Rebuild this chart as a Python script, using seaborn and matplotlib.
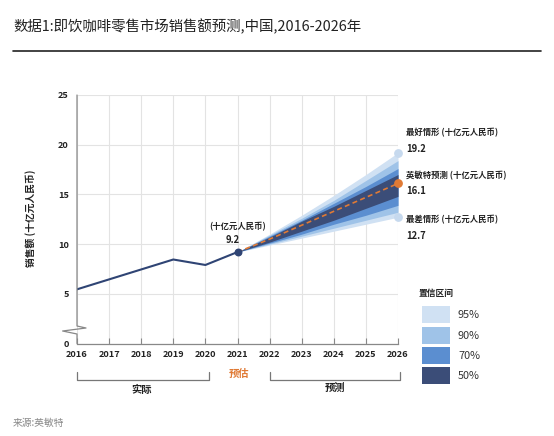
import matplotlib
matplotlib.use("Agg")
import matplotlib.pyplot as plt
from matplotlib.patches import Rectangle
from matplotlib.lines import Line2D
import seaborn as sns
import pandas as pd

# ---------------- data ----------------
years_actual = [2016, 2017, 2018, 2019, 2020, 2021]
values_actual = [5.45, 6.45, 7.45, 8.45, 7.9, 9.2]

forecast_years = [2021, 2022, 2023, 2024, 2025, 2026]
central = [9.2, 10.5, 11.9, 13.3, 14.7, 16.1]
upper95 = [9.2, 11.0, 12.9, 14.9, 17.0, 19.2]
lower95 = [9.2, 9.9, 10.6, 11.3, 12.0, 12.7]
upper90 = [9.2, 10.9, 12.6, 14.4, 16.4, 18.4]
lower90 = [9.2, 10.0, 10.8, 11.6, 12.4, 13.2]
upper70 = [9.2, 10.8, 12.4, 14.1, 15.8, 17.6]
lower70 = [9.2, 10.1, 11.0, 12.0, 12.9, 13.9]
upper50 = [9.2, 10.7, 12.3, 13.8, 15.4, 17.0]
lower50 = [9.2, 10.2, 11.3, 12.4, 13.6, 14.8]

year_ticks = list(range(2016, 2027))
y_ticks = [0, 5, 10, 15, 20, 25]
legend_labels = ["95%", "90%", "70%", "50%"]

title = "数据1:即饮咖啡零售市场销售额预测,中国,2016-2026年"
ylabel = "销售额 (十亿元人民币)"
unit = "(十亿元人民币)"
source = "来源:英敏特"

# ---------------- style ----------------
sns.set_theme(style="whitegrid")
plt.rcParams['font.family'] = ['Noto Sans CJK SC', 'DejaVu Sans']

navy = "#2f4474"
c50 = "#3b4d78"
c70 = "#5b8ed0"
c90 = "#9fc3e8"
c95 = "#d0e1f3"
orange = "#e07a35"
dotlight = "#c6d9ee"
txt = "#222222"

W, H = 554, 436
fig = plt.figure(figsize=(W / 100, H / 100), dpi=100)
fig.patch.set_facecolor("white")

ax_l, ax_r, ax_t, ax_b = 77, 398, 95, 343.5
ax = fig.add_axes([ax_l / W, 1 - ax_b / H, (ax_r - ax_l) / W, (ax_b - ax_t) / H])
ax.set_facecolor("white")

# fan bands
ax.fill_between(forecast_years, lower95, upper95, color=c95, lw=0, zorder=2)
ax.fill_between(forecast_years, lower90, upper90, color=c90, lw=0, zorder=3)
ax.fill_between(forecast_years, lower70, upper70, color=c70, lw=0, zorder=4)
ax.fill_between(forecast_years, lower50, upper50, color=c50, lw=0, zorder=5)

# lines
df_a = pd.DataFrame({"year": years_actual, "value": values_actual})
sns.lineplot(data=df_a, x="year", y="value", ax=ax, color=navy, lw=1.5, zorder=6)
df_f = pd.DataFrame({"year": forecast_years, "value": central})
sns.lineplot(data=df_f, x="year", y="value", ax=ax, color=orange, lw=1.2,
             linestyle=(0, (3, 2)), zorder=7)

# points
ax.scatter([years_actual[-1]], [values_actual[-1]], s=22, color=navy, zorder=8, clip_on=False)
ax.scatter([forecast_years[-1]], [central[-1]], s=28, color=orange, zorder=8, clip_on=False)
ax.scatter([forecast_years[-1]] * 2, [upper95[-1], lower95[-1]], s=28, color=dotlight,
           zorder=8, clip_on=False)

ax.set_xlim(2016, 2026)
ax.set_ylim(0, 25)
ax.set_xticks(year_ticks)
ax.set_yticks(y_ticks)
ax.set_xticklabels([str(y) for y in year_ticks], fontsize=6.6, fontweight="bold", color=txt)
ax.set_yticklabels([str(v) for v in y_ticks], fontsize=6.6, fontweight="bold", color=txt)
ax.set_xlabel("")
ax.set_ylabel("")
ax.grid(True, color="#e3e3e3", lw=0.8)
for s in ["top", "right", "left"]:
    ax.spines[s].set_visible(False)
ax.spines["bottom"].set_color("#888888")
ax.spines["bottom"].set_linewidth(0.9)
ax.tick_params(axis="x", direction="in", length=4, width=0.8, color="#888888", pad=5, bottom=True)
ax.tick_params(axis="y", length=0, pad=6)

# broken left axis
ppu = (ax_b - ax_t) / 25.0
dx = 9 / (ax_r - ax_l) * 10
zig_x = [2016, 2016, 2016 + dx, 2016 - 1.6 * dx, 2016, 2016]
zig_y = [25, (343.5 - 326) / ppu, (343.5 - 328) / ppu, (343.5 - 331) / ppu,
         (343.5 - 334) / ppu, 0]
ax.add_line(Line2D(zig_x, zig_y, color="#888888", lw=0.9, clip_on=False, zorder=9))

# annotation at 2021
ax.text(2021, 11.75, unit, ha="center", va="center", fontsize=6, fontweight="bold", color=txt)
ax.text(2020.85, 10.4, "9.2", ha="center", va="center", fontsize=6.8, fontweight="bold", color=txt)

# right-side labels
def ftext(x, y, s, **kw):
    fig.text(x / W, 1 - y / H, s, **kw)

ftext(406, 133, "最好情形 " + unit, ha="left", va="center", fontsize=6, fontweight="bold", color=txt)
ftext(406, 149, "19.2", ha="left", va="center", fontsize=6.8, fontweight="bold", color=txt)
ftext(406, 176, "英敏特预测 " + unit, ha="left", va="center", fontsize=6, fontweight="bold", color=txt)
ftext(406, 191, "16.1", ha="left", va="center", fontsize=6.8, fontweight="bold", color=txt)
ftext(406, 220, "最差情形 " + unit, ha="left", va="center", fontsize=6, fontweight="bold", color=txt)
ftext(406, 236, "12.7", ha="left", va="center", fontsize=6.8, fontweight="bold", color=txt)

# legend
ftext(419, 293, "置信区间", ha="left", va="center", fontsize=6.3, fontweight="bold", color=txt)
box_cols = [c95, c90, c70, c50]
box_tops = [306, 327, 347, 367]
for col, top, lab in zip(box_cols, box_tops, legend_labels):
    fig.add_artist(Rectangle((422 / W, 1 - (top + 16.5) / H), 28 / W, 16.5 / H,
                             transform=fig.transFigure, facecolor=col, edgecolor="none"))
    ftext(458, top + 9, lab, ha="left", va="center", fontsize=7.8, color="#333333")

# brackets under axis
tr = ax.get_xaxis_transform()
yb_top = (343.5 - 371.5) / (ax_b - ax_t)
yb_bot = (343.5 - 380) / (ax_b - ax_t)
ext = 4 / (ax_r - ax_l) * 10
for x0, x1 in [(2016, 2020 + ext), (2022, 2026 + ext / 2)]:
    ax.add_line(Line2D([x0, x0, x1, x1], [yb_top, yb_bot, yb_bot, yb_top], transform=tr,
                       color="#777777", lw=0.9, clip_on=False))
ftext(142, 390, "实际", ha="center", va="center", fontsize=7.4, fontweight="bold", color=txt)
ftext(335, 388, "预测", ha="center", va="center", fontsize=7.4, fontweight="bold", color=txt)
ftext(239, 374, "预估", ha="center", va="center", fontsize=7.4, fontweight="bold", color=orange)

# y label
ftext(31, 218, ylabel, ha="center", va="center", rotation=90, fontsize=7, fontweight="bold", color=txt)

# title and rule
ftext(13, 27, title, ha="left", va="center", fontsize=10.4, color="#222222")
fig.add_artist(Line2D([13 / W, 541 / W], [1 - 51 / H, 1 - 51 / H], transform=fig.transFigure,
                      color="#222222", lw=1.2))

# source
ftext(13, 423, source, ha="left", va="center", fontsize=7, color="#888888")

fig.savefig("out.png", dpi=100, facecolor="white")
